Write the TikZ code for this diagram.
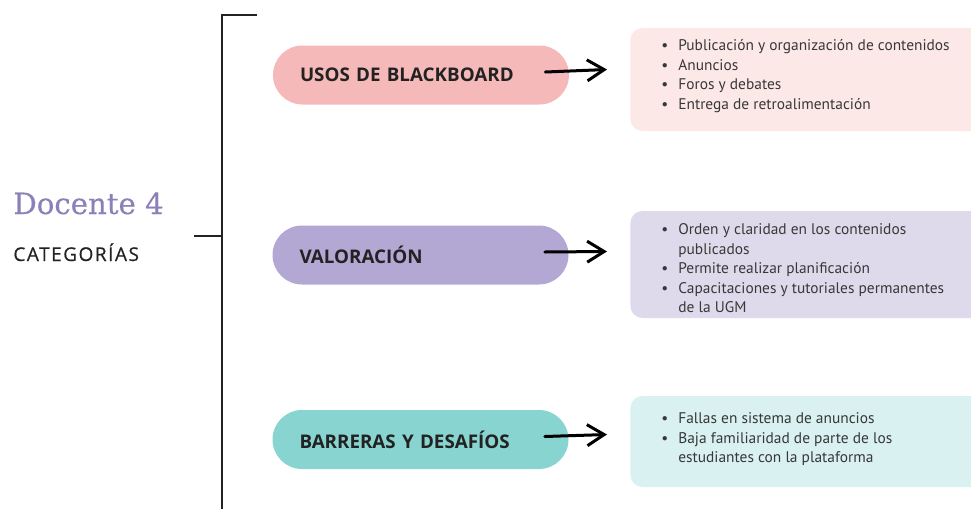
\documentclass[tikz,border=0pt]{standalone}
\usepackage{fontspec}
\setmainfont{PT Sans}
\newfontfamily\DocFont{DejaVu Serif}
\newfontfamily\TagFont{Open Sans}
\usetikzlibrary{arrows.meta}
\definecolor{ColInk}{HTML}{222222}
\definecolor{ColDoc}{HTML}{8C80B8}
\definecolor{ColPinkA}{HTML}{F4B9B8}
\definecolor{ColPinkB}{HTML}{FDE8E8}
\definecolor{ColLilaA}{HTML}{B3A8D4}
\definecolor{ColLilaB}{HTML}{DFDAEB}
\definecolor{ColTealA}{HTML}{88D4D0}
\definecolor{ColTealB}{HTML}{D9F1F0}
\tikzstyle{Pill}=[rounded corners=14.75pt,minimum width=148pt,minimum height=29.5pt,
text width=121pt,inner xsep=13.5pt,align=left,text=ColInk,
font=\TagFont\bfseries\fontsize{9.4}{11}\selectfont]
\tikzstyle{InfoBox}=[rounded corners=6pt,minimum width=190pt,anchor=west,inner sep=0pt]
\tikzstyle{InfoText}=[anchor=west,inner sep=0pt,text=ColInk!90,font=\fontsize{7.7}{9.75}\selectfont]
\tikzstyle{ArrowHand}=[-{Straight Barb[length=8.5pt,width=10.5pt]},line width=1.5pt,
line cap=round,line join=round]
\tikzstyle{Brace}=[line width=1.25pt,ColInk]

\begin{document}
\begin{tikzpicture}[x=0.5pt,y=-0.5pt]
        \useasboundingbox (0,0) rectangle (971,509);
        % title
        \node[anchor=base west,inner sep=0pt,text=ColDoc,font=\DocFont\addfontfeatures{FakeBold=0.4}\fontsize{14.6}{18}\selectfont](doc)at(13,214){Docente 4};
        \node[anchor=base west,inner sep=0pt,text=ColInk,font=\TagFont\addfontfeatures{LetterSpace=8,FakeBold=0.6}\fontsize{9.5}{11}\selectfont](cat)at(13,261){CATEGORÍAS};
        % bracket
        \coordinate(tick)at(194,236);
        \coordinate(top)at(257,15);
        \coordinate(corner)at(222,15);
        \coordinate(bottom)at(222,512);
        \draw[Brace](top)--(corner)--(bottom);
        \draw[Brace](tick)--(tick-|corner);
        % categories
        \node[Pill,fill=ColPinkA](usos)at(421,75){USOS DE BLACKBOARD};
        \node[Pill,fill=ColLilaA](valor)at(420.5,255){VALORACIÓN};
        \node[Pill,fill=ColTealA](barr)at(420.5,439.5){BARRERAS Y DESAFÍOS};
        % boxes
        \node[InfoBox,fill=ColPinkB,minimum height=51.5pt](usosbox)at(630,79.5){};
        \node[InfoBox,fill=ColLilaB,minimum height=53.5pt](valorbox)at(630,264.5){};
        \node[InfoBox,fill=ColTealB,minimum height=45.5pt](barrbox)at(630,441.5){};
        \node[InfoText](usoslist)at(661,76){\begin{tabular}{@{}l@{\hspace{5pt}}l@{}}
            \textbullet & Publicación y organización de contenidos\\
            \textbullet & Anuncios\\
            \textbullet & Foros y debates\\
            \textbullet & Entrega de retroalimentación
        \end{tabular}};
        \node[InfoText](valorlist)at(661,270){\begin{tabular}{@{}l@{\hspace{5pt}}l@{}}
            \textbullet & Orden y claridad en los contenidos\\
             & publicados\\
            \textbullet & Permite realizar planificación\\
            \textbullet & Capacitaciones y tutoriales permanentes\\
             & de la UGM
        \end{tabular}};
        \node[InfoText](barrlist)at(661,439.5){\begin{tabular}{@{}l@{\hspace{5pt}}l@{}}
            \textbullet & Fallas en sistema de anuncios\\
            \textbullet & Baja familiaridad de parte de los\\
             & estudiantes con la plataforma
        \end{tabular}};
        % arrows
        \draw[ArrowHand]([xshift=-12pt,yshift=1.5pt]usos.east)--([xshift=-11.5pt,yshift=5pt]usosbox.west);
        \draw[ArrowHand]([xshift=-12pt,yshift=1.5pt]valor.east)--([xshift=-11.5pt,yshift=6.5pt]valorbox.west);
        \draw[ArrowHand]([xshift=-12pt,yshift=1.5pt]barr.east)--([xshift=-11.5pt,yshift=3.5pt]barrbox.west);
    \end{tikzpicture}
\end{document}
